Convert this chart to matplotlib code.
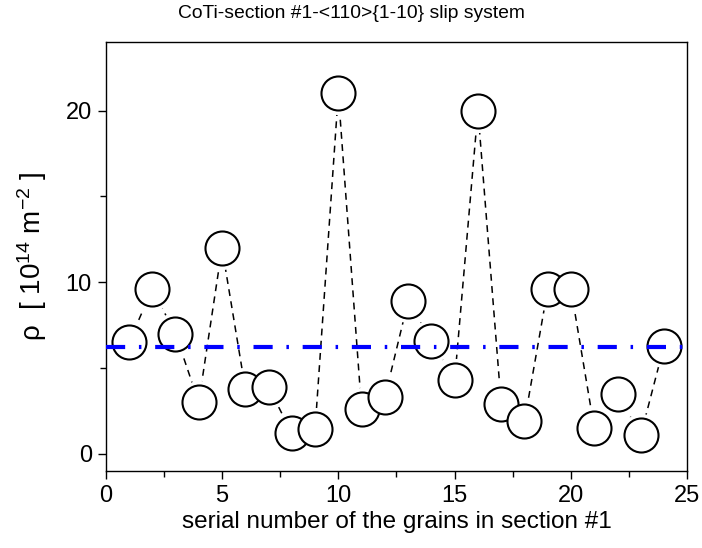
import numpy as np
import matplotlib
matplotlib.use('Agg')
import matplotlib.pyplot as plt
from matplotlib.ticker import MultipleLocator

plt.rcParams['font.family'] = ['Liberation Sans', 'DejaVu Sans']
plt.rcParams['mathtext.fontset'] = 'custom'
plt.rcParams['mathtext.rm'] = 'Liberation Sans'
plt.rcParams['mathtext.it'] = 'Liberation Sans:italic'

## dislocation density of each grain in section #1
grain_no = np.arange(1, 25)
rho = [6.5, 9.6, 7.0, 3.0, 12.0, 3.8, 3.9, 1.2, 1.45, 21.0, 2.6, 3.3,
       8.9, 6.6, 4.3, 20.0, 2.9, 1.9, 9.6, 9.6, 1.5, 3.5, 1.1, 6.3]
rho_mean = 6.2

fig = plt.figure(figsize=(7.02, 5.48), dpi=100)
ax = fig.add_axes([105.7 / 702, 1 - 471 / 548, (687.3 - 105.7) / 702, (471 - 42) / 548])

ax.plot(grain_no, rho, color='black', lw=1.1, ls=(0, (4.5, 3.5)), zorder=2)
# white halo so the dashed line stops short of each circle
ax.plot(grain_no, rho, ls='none', marker='o', ms=30, mfc='white', mec='white', zorder=3)
ax.plot(grain_no, rho, ls='none', marker='o', ms=24.5, mfc='white', mec='black',
        mew=1.5, zorder=4)

ax.axhline(rho_mean, color='#0000ff', lw=3.0, ls=(0, (4.6, 3.3, 0.6, 3.3)), zorder=5)

ax.set_xlim(0, 25)
ax.set_ylim(-1, 24)
ax.xaxis.set_major_locator(MultipleLocator(5))
ax.xaxis.set_minor_locator(MultipleLocator(2.5))
ax.yaxis.set_major_locator(MultipleLocator(10))
ax.yaxis.set_minor_locator(MultipleLocator(5))
ax.tick_params(which='both', direction='out', top=False, right=False, width=1.0,
               labelsize=17, colors='black')
ax.tick_params(which='major', length=6, pad=4)
ax.tick_params(which='minor', length=4)
for s in ax.spines.values():
    s.set_linewidth(1.0)

ax.set_xlabel('serial number of the grains in section #1', fontsize=17.5, labelpad=3)
ax.set_ylabel(r'ρ  [ 10$^{14}$ m$^{-2}$ ]', fontsize=20, labelpad=12)
# title sits centred on the whole figure, not on the axes
fig.text(0.5, 1 - 14 / 548, 'CoTi-section #1-<110>{1-10} slip system',
         fontsize=13.9, ha='center', va='center')

fig.savefig('out.png', dpi=100)
